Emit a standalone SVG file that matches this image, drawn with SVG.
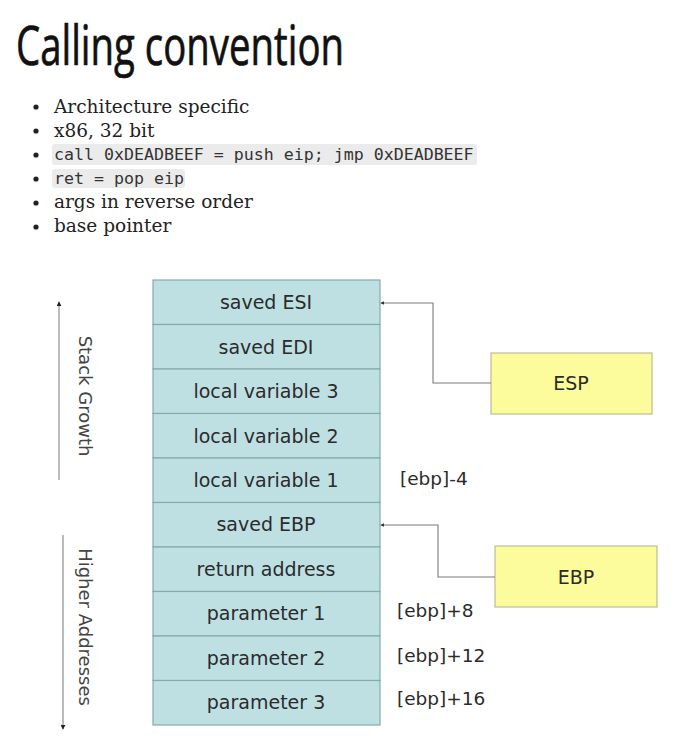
<svg xmlns="http://www.w3.org/2000/svg" width="674" height="746" viewBox="0 0 674 746">
<style>
.title{font-family:"Open Sans","DejaVu Sans",sans-serif;font-size:55px;fill:#111;stroke:#111;stroke-width:0.7}
.bul{font-family:"DejaVu Serif","Liberation Serif",serif;font-size:18.5px;fill:#222}
.code{font-family:"DejaVu Sans Mono","Liberation Mono",monospace;font-size:16.6px;fill:#333}
.codebg{fill:#ebebeb}
.dot{fill:#222}
.row{fill:#bfe0e3;stroke:#86a9aa;stroke-width:1.2}
.rt{font-family:"DejaVu Sans","Liberation Sans",sans-serif;font-size:19px;fill:#2b2b2b;text-anchor:middle;dominant-baseline:central}
.reg{fill:#fcfc9c;stroke:#bdbd98;stroke-width:1.2}
.lab{font-family:"DejaVu Sans","Liberation Sans",sans-serif;font-size:18.5px;fill:#2b2b2b;dominant-baseline:central}
.side{font-family:"DejaVu Sans","Liberation Sans",sans-serif;font-size:18px;fill:#444;text-anchor:middle;dominant-baseline:central}
.conn{fill:none;stroke:#7a7a7a;stroke-width:1.1}
.axis{fill:none;stroke:#777;stroke-width:1}
</style>
<defs>
<marker id="ah" viewBox="0 0 6 6" refX="5" refY="3" markerWidth="4" markerHeight="4" orient="auto" markerUnits="userSpaceOnUse">
<path d="M0,0 L6,3 L0,6 z" fill="#333"/>
</marker>
<marker id="ah2" viewBox="0 0 6 6" refX="5" refY="3" markerWidth="5" markerHeight="5" orient="auto" markerUnits="userSpaceOnUse">
<path d="M0,0 L6,3 L0,6 z" fill="#222"/>
</marker>
</defs>
<rect width="674" height="746" fill="#fff"/>
<g id="title">
<text class="title" x="16" y="65" textLength="328" lengthAdjust="spacingAndGlyphs">Calling convention</text>
</g>
<g id="bullets">
<circle class="dot" cx="36" cy="107" r="2.6"/>
<text class="bul" x="54" y="113">Architecture specific</text>
<circle class="dot" cx="36" cy="131" r="2.6"/>
<text class="bul" x="54" y="137">x86, 32 bit</text>
<circle class="dot" cx="36" cy="155" r="2.6"/>
<rect class="codebg" x="52" y="144" width="425" height="21" rx="3"/>
<text class="code" x="54" y="160">call 0xDEADBEEF = push eip; jmp 0xDEADBEEF</text>
<circle class="dot" cx="36" cy="179" r="2.6"/>
<rect class="codebg" x="52" y="169" width="133" height="19" rx="3"/>
<text class="code" x="54" y="184">ret = pop eip</text>
<circle class="dot" cx="36" cy="203" r="2.6"/>
<text class="bul" x="54" y="208">args in reverse order</text>
<circle class="dot" cx="36" cy="227" r="2.6"/>
<text class="bul" x="54" y="232">base pointer</text>
</g>
<g id="stack">
<g id="r1"><rect class="row" x="153" y="280" width="227" height="44.5"/><text class="rt" x="266" y="302">saved ESI</text></g>
<g id="r2"><rect class="row" x="153" y="324.5" width="227" height="44.5"/><text class="rt" x="266" y="347">saved EDI</text></g>
<g id="r3"><rect class="row" x="153" y="369" width="227" height="44.5"/><text class="rt" x="266" y="391">local variable 3</text></g>
<g id="r4"><rect class="row" x="153" y="413.5" width="227" height="44.5"/><text class="rt" x="266" y="436">local variable 2</text></g>
<g id="r5"><rect class="row" x="153" y="458" width="227" height="44.5"/><text class="rt" x="266" y="480">local variable 1</text></g>
<g id="r6"><rect class="row" x="153" y="502.5" width="227" height="44.5"/><text class="rt" x="266" y="524">saved EBP</text></g>
<g id="r7"><rect class="row" x="153" y="547" width="227" height="44.5"/><text class="rt" x="266" y="569">return address</text></g>
<g id="r8"><rect class="row" x="153" y="591.5" width="227" height="44.5"/><text class="rt" x="266" y="613">parameter 1</text></g>
<g id="r9"><rect class="row" x="153" y="636" width="227" height="44.5"/><text class="rt" x="266" y="658">parameter 2</text></g>
<g id="r10"><rect class="row" x="153" y="680.5" width="227" height="44.5"/><text class="rt" x="266" y="702">parameter 3</text></g>
</g>
<g id="esp"><rect class="reg" x="491" y="353" width="161" height="61"/><text class="rt" x="571" y="383">ESP</text></g>
<g id="ebp"><rect class="reg" x="495" y="546" width="162" height="61"/><text class="rt" x="576" y="577">EBP</text></g>
<g id="offsets">
<text class="lab" x="400" y="478">[ebp]-4</text>
<text class="lab" x="397" y="610">[ebp]+8</text>
<text class="lab" x="397" y="655">[ebp]+12</text>
<text class="lab" x="397" y="698">[ebp]+16</text>
</g>
<g id="axes">
<line class="axis" x1="59" y1="480" x2="59" y2="302" marker-end="url(#ah2)"/>
<text class="side" transform="translate(85,396) rotate(90)">Stack Growth</text>
<line class="axis" x1="63" y1="535" x2="63" y2="729" marker-end="url(#ah2)"/>
<text class="side" transform="translate(85,627) rotate(90)">Higher Addresses</text>
</g>
<g id="connectors">
<path class="conn" d="M491,383 H433 V303 H381" marker-end="url(#ah)"/>
<path class="conn" d="M495,577 H438 V525 H381" marker-end="url(#ah)"/>
</g>
</svg>
